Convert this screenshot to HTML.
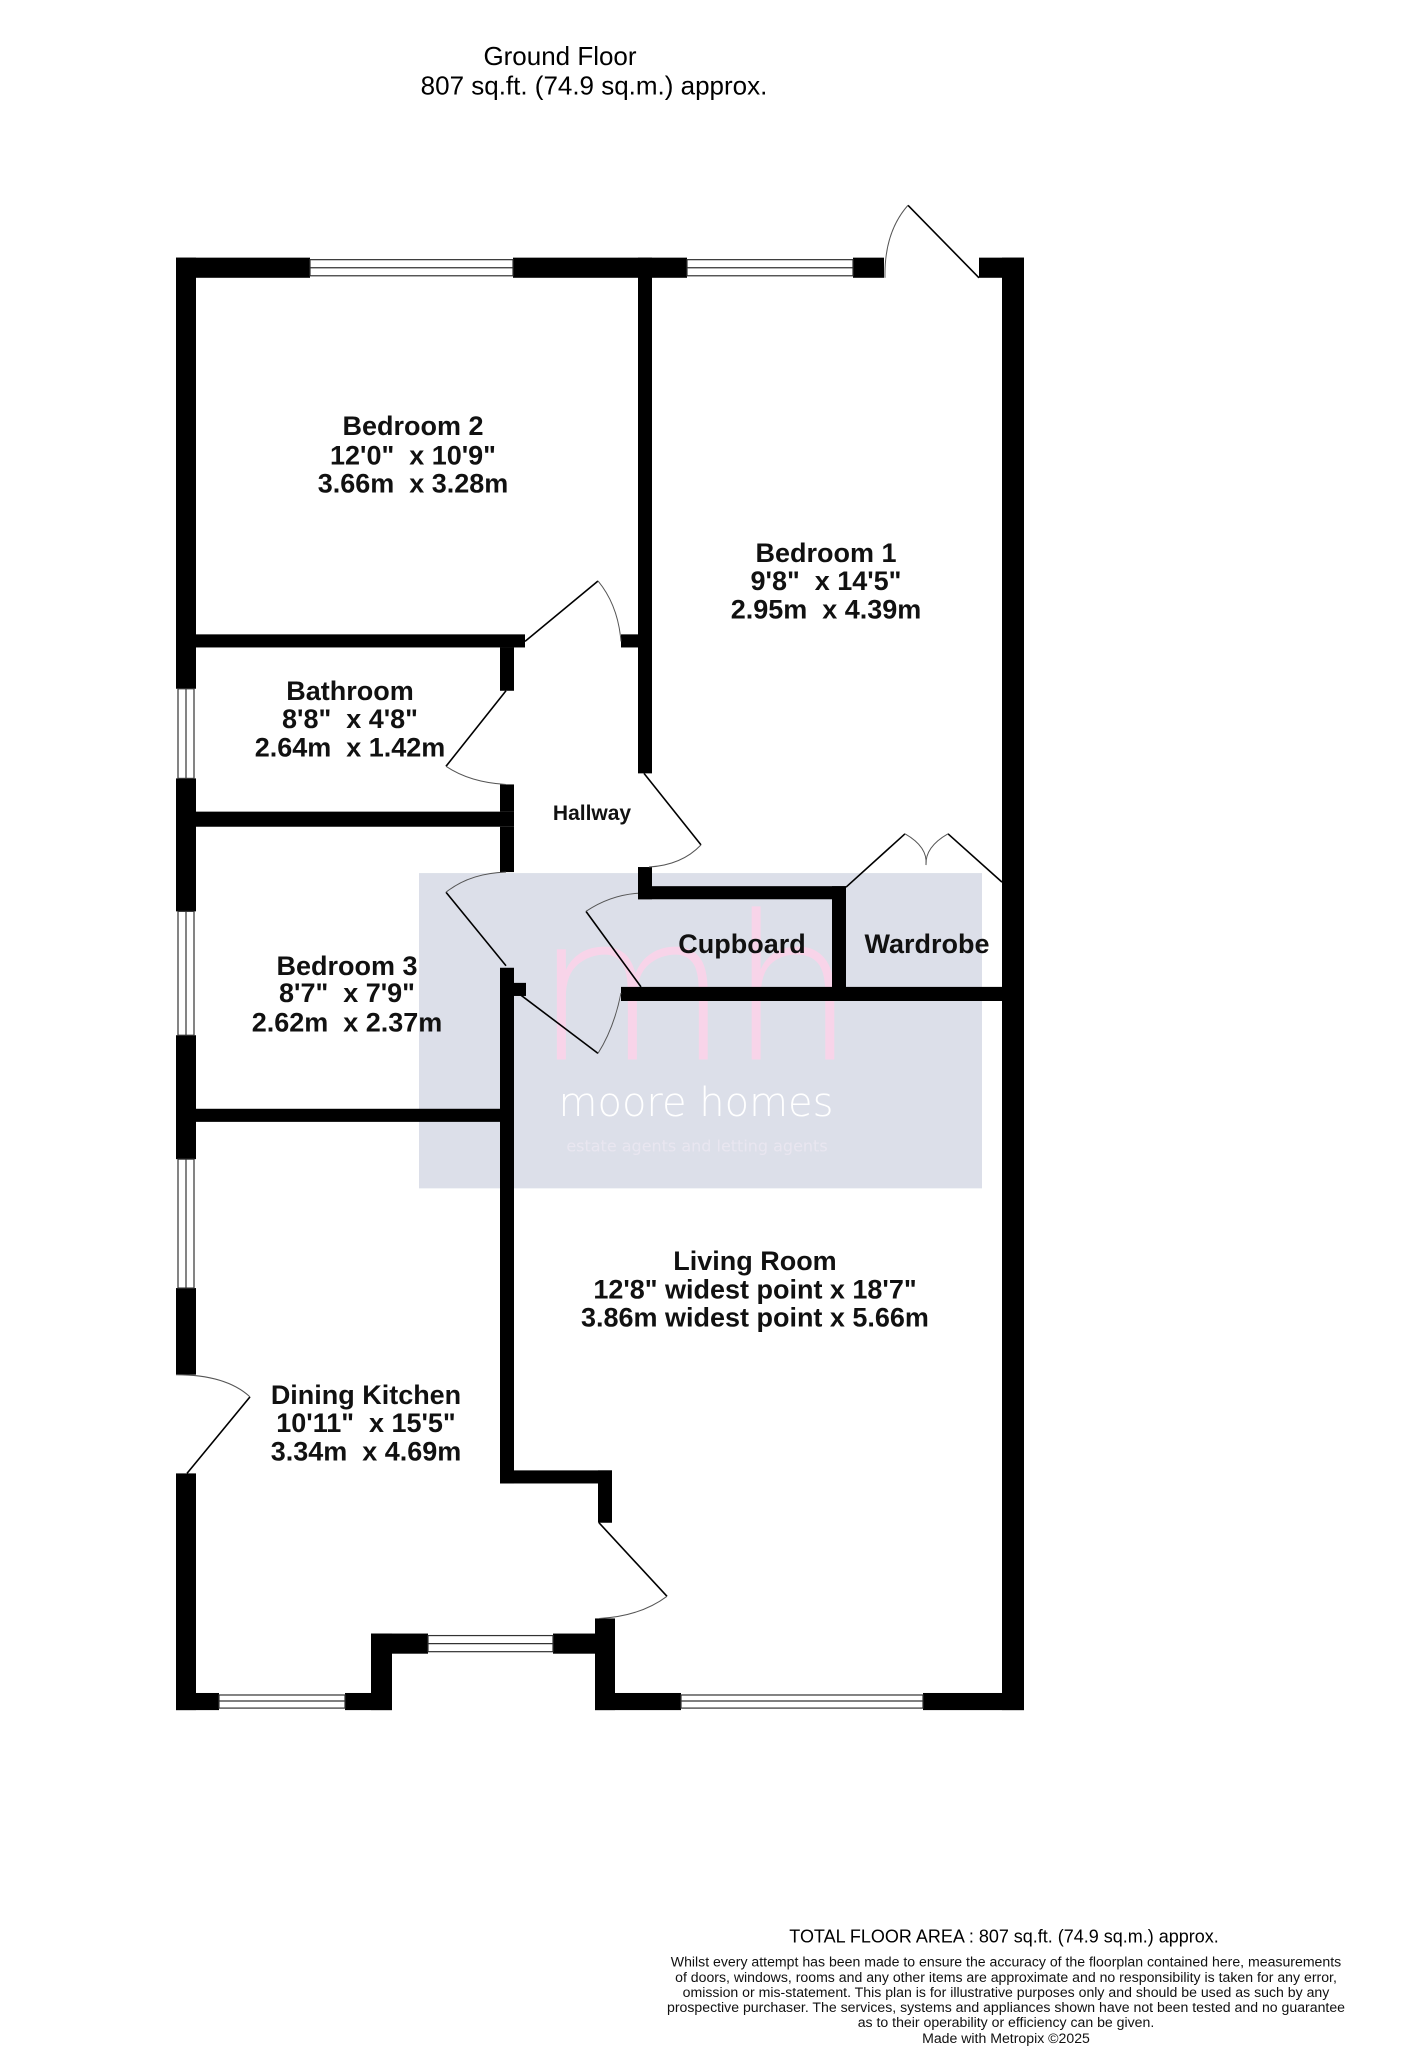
<!DOCTYPE html>
<html><head><meta charset="utf-8"><style>
html,body{margin:0;padding:0;background:#fff}
svg{display:block}
text{font-family:"Liberation Sans",sans-serif;text-anchor:middle;dominant-baseline:middle;white-space:pre}
.r{font-weight:bold;font-size:27px;fill:#111}
</style></head><body>
<svg width="1405" height="2048" viewBox="0 0 1405 2048" xmlns="http://www.w3.org/2000/svg" xml:space="preserve">
<rect width="1405" height="2048" fill="#fff"/>
<g transform="matrix(1,0,0,1.00725,0,0.8)">
<text x="560" y="57" font-size="26">Ground Floor</text>
<text x="594" y="86" font-size="26">807 sq.ft. (74.9 sq.m.) approx.</text>

<rect x="419" y="866" width="563" height="313" fill="#dcdfe9"/>
<text x="695" y="996" font-size="200" fill="#f8d4e9" style="font-family:'DejaVu Sans',sans-serif;font-weight:200">mh</text>
<text x="696" y="1096" font-size="40" fill="#fff" style="font-family:'DejaVu Sans',sans-serif;font-weight:200">moore homes</text>
<text x="697" y="1138" font-size="16" fill="#e9e6f0" style="font-family:'DejaVu Sans',sans-serif">estate agents and letting agents</text>

<g fill="#000">
<rect x="176" y="255" width="134" height="20"/>
<rect x="513" y="255" width="174" height="20"/>
<rect x="853" y="255" width="31" height="20"/>
<rect x="979" y="255" width="45" height="20"/>
<rect x="1002" y="255" width="22" height="1442"/>
<rect x="176" y="255" width="20" height="428"/>
<rect x="176" y="772" width="20" height="132"/>
<rect x="176" y="1027" width="20" height="123"/>
<rect x="176" y="1278" width="20" height="86"/>
<rect x="176" y="1462" width="20" height="235"/>
<rect x="176" y="1680" width="43" height="17"/>
<rect x="345" y="1680" width="47" height="17"/>
<rect x="371" y="1621" width="21" height="76"/>
<rect x="371" y="1621" width="57" height="20"/>
<rect x="553" y="1621" width="62" height="20"/>
<rect x="595" y="1606" width="20" height="91"/>
<rect x="595" y="1680" width="86" height="17"/>
<rect x="923" y="1680" width="101" height="17"/>
<rect x="638" y="255" width="14" height="512"/>
<rect x="176" y="629" width="349" height="13"/>
<rect x="621" y="629" width="31" height="13"/>
<rect x="500" y="642" width="14" height="43"/>
<rect x="500" y="778" width="14" height="27"/>
<rect x="176" y="805" width="338" height="15"/>
<rect x="500" y="820" width="14" height="45"/>
<rect x="500" y="960" width="14" height="512"/>
<rect x="514" y="975" width="12" height="13"/>
<rect x="176" y="1100" width="338" height="13"/>
<rect x="500" y="1459" width="112" height="13"/>
<rect x="598" y="1459" width="14" height="52"/>
<rect x="638" y="879" width="208" height="13"/>
<rect x="638" y="860" width="14" height="32"/>
<rect x="832" y="879" width="14" height="114"/>
<rect x="621" y="979" width="403" height="14"/>
</g>

<g fill="#fff" stroke="#333" stroke-width="1.2">
<rect x="310" y="257" width="203" height="16"/><line x1="310" y1="265" x2="513" y2="265"/>
<rect x="687" y="257" width="166" height="16"/><line x1="687" y1="265" x2="853" y2="265"/>
<rect x="178" y="683" width="16" height="89"/><line x1="186" y1="683" x2="186" y2="772"/>
<rect x="178" y="904" width="16" height="123"/><line x1="186" y1="904" x2="186" y2="1027"/>
<rect x="178" y="1150" width="16" height="128"/><line x1="186" y1="1150" x2="186" y2="1278"/>
<rect x="219" y="1682" width="126" height="13"/><line x1="219" y1="1688" x2="345" y2="1688"/>
<rect x="428" y="1623" width="125" height="16"/><line x1="428" y1="1631" x2="553" y2="1631"/>
<rect x="681" y="1682" width="242" height="13"/><line x1="681" y1="1688" x2="923" y2="1688"/>
</g>

<g fill="none" stroke="#000" stroke-width="1.6">
<line x1="979" y1="275" x2="908" y2="203"/>
<line x1="525" y1="636" x2="598" y2="576"/>
<line x1="506" y1="685" x2="446" y2="760"/>
<line x1="644" y1="767" x2="701" y2="838"/>
<line x1="446" y1="885" x2="506" y2="958"/>
<line x1="514" y1="982" x2="598" y2="1045"/>
<line x1="586" y1="904" x2="641" y2="979"/>
<line x1="846" y1="880" x2="905" y2="827"/>
<line x1="1002" y1="875" x2="948" y2="827"/>
<line x1="187" y1="1462" x2="250" y2="1386"/>
<line x1="599" y1="1511" x2="667" y2="1584"/>
</g>
<g fill="none" stroke="#555" stroke-width="1">
<path d="M908 203 Q884 230 885 275"/>
<path d="M598 576 Q618 600 621 636"/>
<path d="M446 760 Q470 776 506 778"/>
<path d="M701 838 Q682 858 649 860"/>
<path d="M446 885 Q470 866 506 865"/>
<path d="M598 1045 Q614 1020 621 985"/>
<path d="M586 904 Q610 888 638 886"/>
<path d="M905 827 Q928 840 926 858"/>
<path d="M948 827 Q925 840 926 858"/>
<path d="M250 1386 Q226 1364 176 1364"/>
<path d="M667 1584 Q640 1604 599 1606"/>
</g>

<text class="r" x="413" y="424">Bedroom 2</text>
<text class="r" x="413" y="453">12'0"  x 10'9"</text>
<text class="r" x="413" y="481">3.66m  x 3.28m</text>
<text class="r" x="826" y="550">Bedroom 1</text>
<text class="r" x="826" y="578">9'8"  x 14'5"</text>
<text class="r" x="826" y="606">2.95m  x 4.39m</text>
<text class="r" x="350" y="687">Bathroom</text>
<text class="r" x="350" y="715">8'8"  x 4'8"</text>
<text class="r" x="350" y="743">2.64m  x 1.42m</text>
<text class="r" x="592" y="808" style="font-size:21px">Hallway</text>
<text class="r" x="742" y="938">Cupboard</text>
<text class="r" x="927" y="938">Wardrobe</text>
<text class="r" x="347" y="960">Bedroom 3</text>
<text class="r" x="347" y="987">8'7"  x 7'9"</text>
<text class="r" x="347" y="1016">2.62m  x 2.37m</text>
<text class="r" x="755" y="1253">Living Room</text>
<text class="r" x="755" y="1281">12'8" widest point x 18'7"</text>
<text class="r" x="755" y="1309">3.86m widest point x 5.66m</text>
<text class="r" x="366" y="1386">Dining Kitchen</text>
<text class="r" x="366" y="1414">10'11"  x 15'5"</text>
<text class="r" x="366" y="1442">3.34m  x 4.69m</text>

<text x="1004" y="1923" font-size="18">TOTAL FLOOR AREA : 807 sq.ft. (74.9 sq.m.) approx.</text>
<g font-size="14.1" fill="#111">
<text x="1006" y="1948">Whilst every attempt has been made to ensure the accuracy of the floorplan contained here, measurements</text>
<text x="1006" y="1963">of doors, windows, rooms and any other items are approximate and no responsibility is taken for any error,</text>
<text x="1006" y="1978">omission or mis-statement. This plan is for illustrative purposes only and should be used as such by any</text>
<text x="1006" y="1993">prospective purchaser. The services, systems and appliances shown have not been tested and no guarantee</text>
<text x="1006" y="2008">as to their operability or efficiency can be given.</text>
<text x="1006" y="2024">Made with Metropix ©2025</text>
</g>
</g>
</svg>
</body></html>
